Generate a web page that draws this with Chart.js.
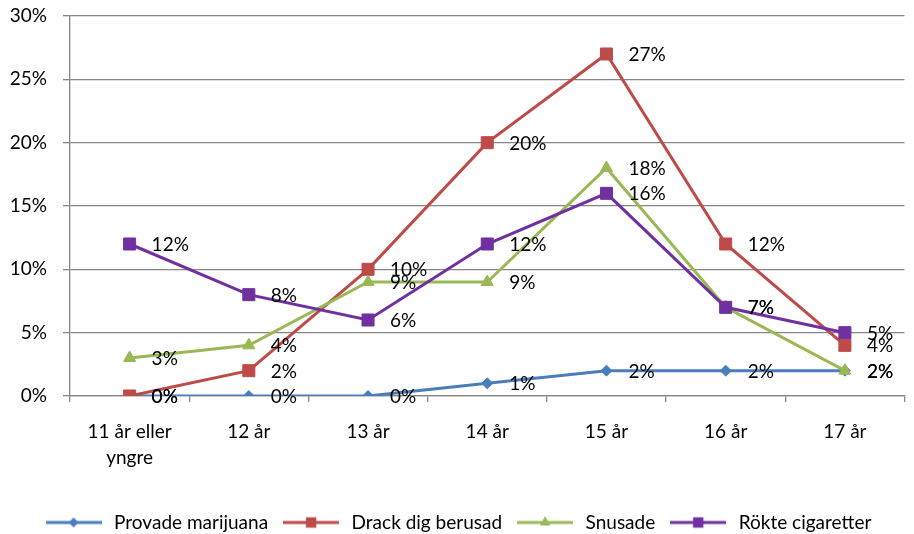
<!DOCTYPE html>
<html><head><meta charset="utf-8">
<script src="https://cdn.jsdelivr.net/npm/chart.js@4/dist/chart.umd.min.js"></script>
<style>html,body{margin:0;padding:0;background:#fff;overflow:hidden}</style>
</head><body>
<canvas id="c" width="914" height="534"></canvas>
<script>
const categories = [['11 år eller', 'yngre'], '12 år', '13 år', '14 år', '15 år', '16 år', '17 år'];
const seriesNames = ['Provade marijuana', 'Drack dig berusad', 'Snusade', 'Rökte cigaretter'];
const marijuana = [0, 0, 0, 1, 2, 2, 2];
const berusad = [0, 2, 10, 20, 27, 12, 4];
const snusade = [3, 4, 9, 9, 18, 7, 2];
const cigaretter = [12, 8, 6, 12, 16, 7, 5];
const yTickValues = [0, 5, 10, 15, 20, 25, 30];

const seriesValues = [marijuana, berusad, snusade, cigaretter];
const colors = ['#4A7EBB', '#BE4B48', '#98B954', '#7030A0'];
const styles = ['rectRot', 'rect', 'triangle', 'rect'];
const radii = [5.5, 8.5, 7, 8.5];
const FONT = 'Lato, "Open Sans", sans-serif';
const FS = 19;

function legendImage(i) {
  const c = document.createElement('canvas');
  c.width = 56; c.height = 18;
  const ctx = c.getContext('2d');
  ctx.strokeStyle = colors[i]; ctx.lineWidth = 3;
  ctx.beginPath(); ctx.moveTo(0, 9); ctx.lineTo(56, 9); ctx.stroke();
  ctx.fillStyle = colors[i];
  Chart.helpers.drawPoint(ctx, {pointStyle: styles[i], radius: radii[i] * 0.85, rotation: 0, borderWidth: 0}, 28, 9);
  ctx.fill();
  return c;
}

const datasets = seriesNames.map((name, i) => ({
  label: name,
  data: seriesValues[i],
  borderColor: colors[i],
  backgroundColor: colors[i],
  borderWidth: 3,
  pointStyle: styles[i],
  pointRadius: radii[i],
  pointHoverRadius: radii[i],
  pointBorderWidth: 1,
  tension: 0,
  order: 10 - i
}));

const labelPlugin = {
  id: 'valueLabels',
  afterDatasetsDraw(chart) {
    const ctx = chart.ctx;
    ctx.save();
    ctx.font = FS + 'px ' + FONT;
    ctx.fillStyle = '#000';
    ctx.textAlign = 'left';
    ctx.textBaseline = 'middle';
    chart.data.datasets.forEach((ds, i) => {
      const meta = chart.getDatasetMeta(i);
      meta.data.forEach((pt, j) => {
        ctx.fillText(ds.data[j] + '%', pt.x + 22, pt.y + 1);
      });
    });
    ctx.restore();
  }
};

new Chart(document.getElementById('c'), {
  type: 'line',
  data: { labels: categories, datasets },
  options: {
    responsive: false,
    animation: false,
    events: [],
    layout: { padding: { top: 16, right: 0, bottom: -8, left: 0 } },
    plugins: {
      tooltip: { enabled: false },
      legend: {
        position: 'bottom',
        labels: {
          font: { family: FONT, size: FS },
          color: '#000',
          usePointStyle: true,
          pointStyleWidth: 62,
          padding: 12,
          generateLabels(chart) {
            return chart.data.datasets.map((ds, i) => ({
              text: ds.label,
              pointStyle: legendImage(i),
              fillStyle: colors[i],
              strokeStyle: colors[i],
              lineWidth: 0,
              hidden: false,
              datasetIndex: i
            }));
          }
        }
      }
    },
    scales: {
      x: {
        offset: true,
        grid: { offset: true, drawOnChartArea: false, drawTicks: true, tickLength: 6, color: '#868686', lineWidth: 1.3 },
        border: { color: '#868686', width: 1.3 },
        ticks: { font: { family: FONT, size: FS, lineHeight: 1.35 }, color: '#000', padding: 17, maxRotation: 0, autoSkip: false },
        afterFit(scale) { scale.height = 105; }
      },
      y: {
        min: 0, max: 30,
        afterBuildTicks(scale) { scale.ticks = yTickValues.map(v => ({ value: v })); },
        grid: { color: '#868686', lineWidth: 1.3, tickLength: 7 },
        border: { color: '#868686', width: 1.3 },
        ticks: { font: { family: FONT, size: FS }, color: '#000', padding: 16, callback: v => v + '%' },
        afterFit(scale) { scale.width = 70; scale.paddingTop = 0; scale.paddingBottom = 0; }
      }
    }
  },
  plugins: [labelPlugin]
});
</script>
</body></html>
